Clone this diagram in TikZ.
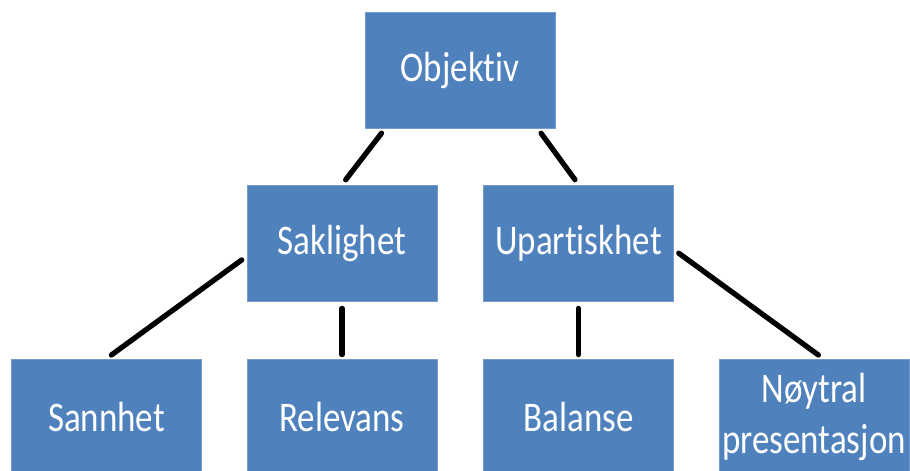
\documentclass[tikz,border=0pt]{standalone}
\usepackage{fontspec}
\newfontfamily\boxfont[FakeStretch=0.83,Ligatures=NoCommon]{Carlito}
\definecolor{boxblue}{HTML}{4F81BD}

\begin{document}
\begin{tikzpicture}[line cap=round,line join=round]
  \tikzset{
    term/.style={rectangle,fill=boxblue,draw=boxblue!80!white,line width=0.5pt,
      minimum width=3.8cm,minimum height=2.32cm,inner sep=0pt,align=center,
      text=white,font=\boxfont\fontsize{24}{29}\selectfont},
    link/.style={line width=3pt,black,shorten <=0.12cm,shorten >=0.12cm}
  }
  \clip (0,0) rectangle (18.2,9.42);

  % top and middle level
  \node[term] (obj) at (9.2,8.02) {Objektiv};
  \node[term] (sak) at (6.84,4.56) {Saklighet};
  \node[term] (upa) at (11.57,4.56) {Upartiskhet};

  % bottom level, cut by the page edge
  \node[term] (san) at (2.13,1.08) {Sannhet};
  \node[term] (rel) at (6.84,1.08) {Relevans};
  \node[term] (bal) at (11.57,1.08) {Balanse};
  \node[term] (noy) at (16.28,1.08) {Nøytral\\presentasjon};

  \draw[link] (obj.218) -- (sak.north);
  \draw[link] (obj.323) -- (upa.north);
  \draw[link] (sak.188) -- (san.north);
  \draw[link,shorten <=0.14cm,shorten >=0.08cm] (sak.south) -- (rel.north);
  \draw[link,shorten <=0.14cm,shorten >=0.08cm] (upa.south) -- (bal.north);
  \draw[link] (upa.356) -- (noy.81);
\end{tikzpicture}
\end{document}
